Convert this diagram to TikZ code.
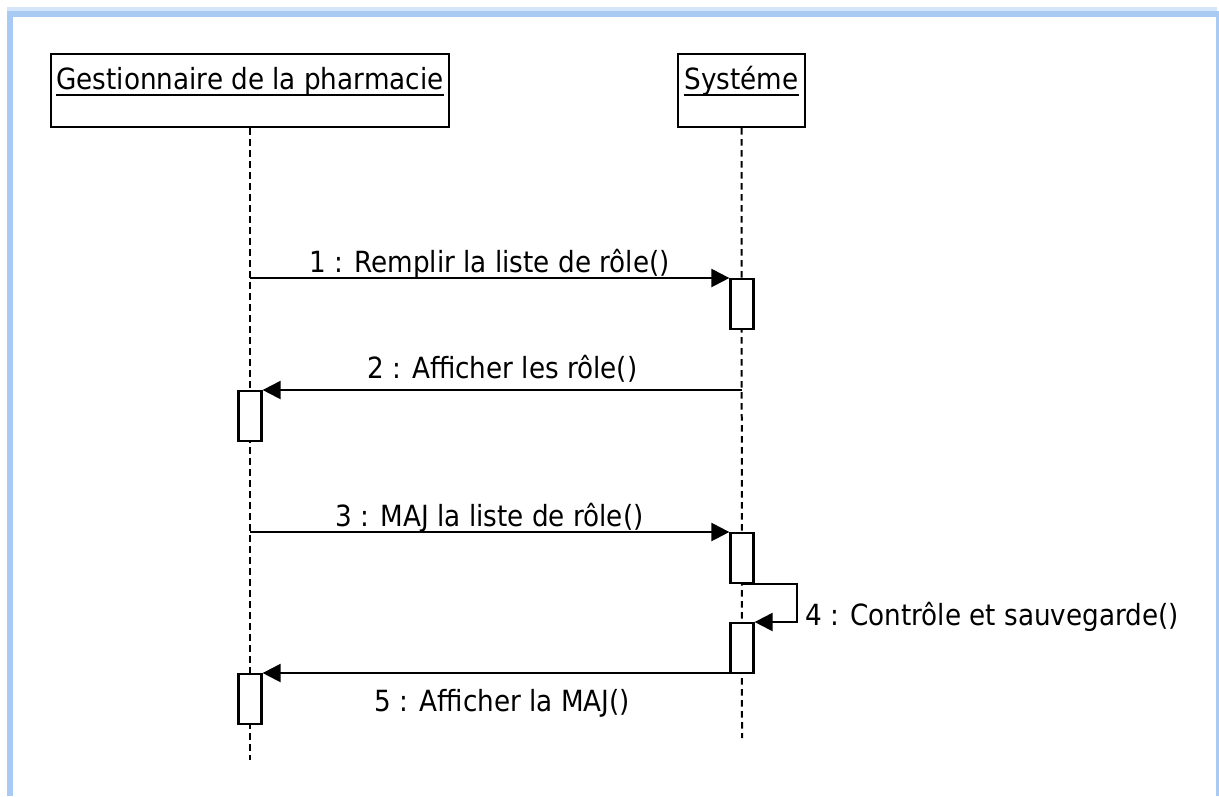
\documentclass[tikz,border=0pt]{standalone}
\usepackage{fontspec}
\setmainfont{DejaVu Sans Condensed}
\usetikzlibrary{arrows.meta}
\definecolor{framebleu}{RGB}{168,202,243}
\definecolor{framepale}{RGB}{214,230,250}
\begin{document}
\begin{tikzpicture}[x=0.02cm,y=-0.02cm,font=\fontsize{16.6}{20}\selectfont,
    objet/.style={draw,line width=0.045cm,minimum width=7.96cm,minimum height=1.46cm,inner sep=0},
    nom/.style={anchor=base,inner sep=0},
    activ/.style={draw,fill=white,line width=0.045cm,minimum width=0.46cm,minimum height=1cm,inner sep=0,anchor=north},
    vie/.style={line width=0.04cm,dash pattern=on 0.13cm off 0.09cm},
    msg/.style={line width=0.045cm,-{Triangle[length=0.36cm,width=0.36cm]}},
    lbl/.style={anchor=base,inner sep=0}]
    \useasboundingbox (0,0) rectangle (1219,796);
    % cadre
    \draw[framepale,line width=0.1cm] (9,796) -- (9,9) -- (1217,9);
    \draw[framebleu,line width=0.12cm] (10,796) -- (10,14) -- (1219,14);
    \draw[framebleu,line width=0.07cm] (1218,14) -- (1218,796);
    % objets
    \node[objet] (gest) at (250,90.5) {};
    \node[objet,minimum width=2.54cm] (sys) at (741.5,90.5) {};
    \node[nom] (gestlbl) at (250,89) {Gestionnaire de la pharmacie};
    \node[nom] (syslbl) at (741.5,89) {Systéme};
    \draw[line width=0.04cm] ([yshift=-0.11cm]gestlbl.base west) -- ([yshift=-0.11cm]gestlbl.base east);
    \draw[line width=0.04cm] ([yshift=-0.11cm]syslbl.base west) -- ([yshift=-0.11cm]syslbl.base east);
    % lignes de vie
    \coordinate (gfin) at (250,760);
    \coordinate (sfin) at (742,738);
    \draw[vie] (gest.south) -- (gfin);
    \draw[vie] (sys.south) -- (sfin);
    % activations
    \node[activ] (a1) at (742,278) {};
    \node[activ] (a2) at (250,390) {};
    \node[activ] (a3) at (742,532) {};
    \node[activ] (a4) at (742,622) {};
    \node[activ] (a5) at (250,673) {};
    % messages
    \coordinate (g1) at (250,278);
    \coordinate (s2) at (742,390);
    \coordinate (g3) at (250,532);
    \coordinate (s5) at (742,673);
    \draw[msg] (g1) -- (a1.north west) node[lbl,midway,yshift=0.12cm]{1 : Remplir la liste de rôle()};
    \draw[msg] (s2) -- (a2.north east) node[lbl,midway,yshift=0.24cm]{2 : Afficher les rôle()};
    \draw[msg] (g3) -- (a3.north west) node[lbl,midway,yshift=0.12cm]{3 : MAJ la liste de rôle()};
    \draw[msg] (a3.south) -- ++(55,0) coordinate (boucle) |- (a4.north east);
    \node[anchor=base west,inner sep=0] (lbl4) at (805,625) {4 : Contrôle et sauvegarde()};
    \draw[msg] (s5) -- (a5.north east) node[lbl,midway,yshift=-0.76cm]{5 : Afficher la MAJ()};
\end{tikzpicture}
\end{document}
